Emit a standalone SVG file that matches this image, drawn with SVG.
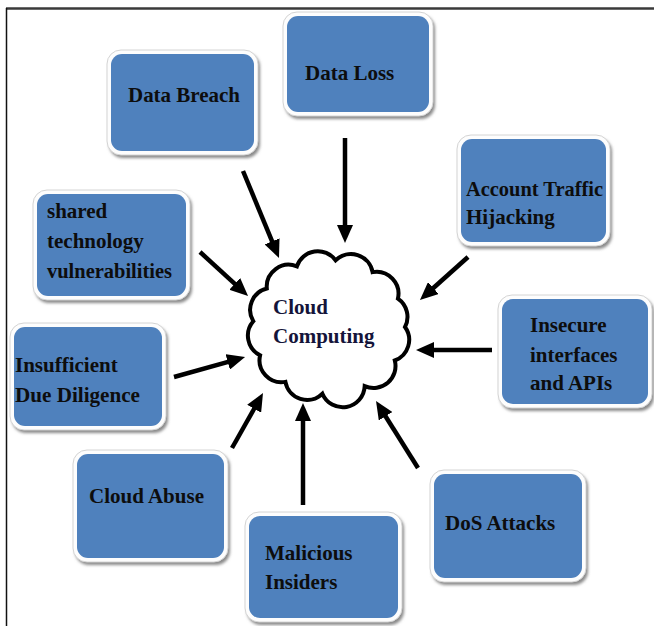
<svg xmlns="http://www.w3.org/2000/svg" width="654" height="626" viewBox="0 0 654 626">
<defs>
<style>
.shadow{fill:#8a8a8a;filter:url(#blur)}
.frame{fill:#fdfdfd;stroke:#d4d4d4;stroke-width:1}
.fill{fill:#4f81bd}
.lbl{font-family:"Liberation Serif","Times New Roman",serif;font-weight:bold;font-size:21px;fill:#0d0d0d}
.cl{font-family:"Liberation Serif","Times New Roman",serif;font-weight:bold;font-size:21px;fill:#14143a}
.conn{stroke:#000;stroke-width:4.5;fill:none;marker-end:url(#ah)}
</style>
<filter id="blur" x="-10%" y="-10%" width="120%" height="120%"><feGaussianBlur stdDeviation="1.5"/></filter>
<marker id="ah" markerUnits="userSpaceOnUse" markerWidth="18" markerHeight="16" refX="6" refY="8" orient="auto"><path d="M0,0 L18,8 L0,16 z" fill="#000"/></marker>
</defs>
<rect width="654" height="626" fill="#fff"/>
<line x1="6" y1="8.5" x2="654" y2="8.5" stroke="#3a3a3a" stroke-width="2.5"/>
<line x1="6.5" y1="8" x2="6.5" y2="626" stroke="#111" stroke-width="1.5"/>

<g id="connectors">
<line class="conn" x1="243" y1="171" x2="274.4" y2="246.9"/>
<line class="conn" x1="345" y1="138" x2="345" y2="231"/>
<line class="conn" x1="468" y1="257" x2="428.9" y2="292"/>
<line class="conn" x1="492" y1="350" x2="428" y2="350"/>
<line class="conn" x1="418" y1="468" x2="382.4" y2="411.2"/>
<line class="conn" x1="303" y1="505" x2="303" y2="415"/>
<line class="conn" x1="232" y1="448" x2="257.1" y2="403.5"/>
<line class="conn" x1="174" y1="377" x2="233.5" y2="360.3"/>
<line class="conn" x1="200" y1="252" x2="239.2" y2="287.9"/>
</g>

<g id="cloud">
<path d="M405,327 A22,22 0 0 1 394.8,360.5 A22,22 0 0 1 364.7,386.2 A22,22 0 0 1 322.4,393.7 A22,22 0 0 1 285.4,381.9 A22,22 0 0 1 260.1,355.3 A22,22 0 0 1 253.3,321.2 A22,22 0 0 1 266.8,288.5 A22,22 0 0 1 296.9,266.3 A22,22 0 0 1 335.6,260.3 A22,22 0 0 1 372.6,272.1 A22,22 0 0 1 397.9,298.7 A22,22 0 0 1 405,327 Z" fill="#fff" stroke="#000" stroke-width="4"/>
<text class="cl" x="273" y="314">Cloud</text>
<text class="cl" x="273" y="343">Computing</text>
</g>

<g id="data-breach">
<rect class="shadow" x="109" y="53" width="151" height="105" rx="14"/>
<rect class="frame" x="107" y="50" width="151" height="105" rx="14"/>
<rect class="fill" x="111" y="54" width="143" height="97" rx="11"/>
<text class="lbl" x="128" y="102" textLength="112" lengthAdjust="spacingAndGlyphs">Data Breach</text>
</g>

<g id="data-loss">
<rect class="shadow" x="285" y="15" width="150" height="104" rx="14"/>
<rect class="frame" x="283" y="12" width="150" height="104" rx="14"/>
<rect class="fill" x="287" y="16" width="142" height="96" rx="11"/>
<text class="lbl" x="305" y="80">Data Loss</text>
</g>

<g id="account-traffic-hijacking">
<rect class="shadow" x="459" y="138" width="153" height="111" rx="14"/>
<rect class="frame" x="457" y="135" width="153" height="111" rx="14"/>
<rect class="fill" x="461" y="139" width="145" height="103" rx="11"/>
<text class="lbl" x="466" y="196" textLength="137" lengthAdjust="spacingAndGlyphs">Account Traffic</text>
<text class="lbl" x="466" y="224">Hijacking</text>
</g>

<g id="shared-technology">
<rect class="shadow" x="35" y="193" width="157" height="110" rx="14"/>
<rect class="frame" x="33" y="190" width="157" height="110" rx="14"/>
<rect class="fill" x="37" y="194" width="149" height="102" rx="11"/>
<text class="lbl" x="47" y="218">shared</text>
<text class="lbl" x="47" y="248">technology</text>
<text class="lbl" x="47" y="278" textLength="125" lengthAdjust="spacingAndGlyphs">vulnerabilities</text>
</g>

<g id="insufficient-due-diligence">
<rect class="shadow" x="12" y="326" width="156" height="107" rx="14"/>
<rect class="frame" x="10" y="323" width="156" height="107" rx="14"/>
<rect class="fill" x="14" y="327" width="148" height="99" rx="11"/>
<text class="lbl" x="15" y="372">Insufficient</text>
<text class="lbl" x="15" y="402" textLength="125" lengthAdjust="spacingAndGlyphs">Due Diligence</text>
</g>

<g id="insecure-interfaces">
<rect class="shadow" x="500" y="298" width="154" height="113" rx="14"/>
<rect class="frame" x="498" y="295" width="154" height="113" rx="14"/>
<rect class="fill" x="502" y="299" width="146" height="105" rx="11"/>
<text class="lbl" x="530" y="332">Insecure</text>
<text class="lbl" x="530" y="362">interfaces</text>
<text class="lbl" x="530" y="390">and APIs</text>
</g>

<g id="dos-attacks">
<rect class="shadow" x="432" y="473" width="156" height="112" rx="14"/>
<rect class="frame" x="430" y="470" width="156" height="112" rx="14"/>
<rect class="fill" x="434" y="474" width="148" height="104" rx="11"/>
<text class="lbl" x="445" y="530">DoS Attacks</text>
</g>

<g id="cloud-abuse">
<rect class="shadow" x="75" y="453" width="155" height="112" rx="14"/>
<rect class="frame" x="73" y="450" width="155" height="112" rx="14"/>
<rect class="fill" x="77" y="454" width="147" height="104" rx="11"/>
<text class="lbl" x="89" y="503">Cloud Abuse</text>
</g>

<g id="malicious-insiders">
<rect class="shadow" x="247" y="515" width="157" height="110" rx="14"/>
<rect class="frame" x="245" y="512" width="157" height="110" rx="14"/>
<rect class="fill" x="249" y="516" width="149" height="102" rx="11"/>
<text class="lbl" x="265" y="560">Malicious</text>
<text class="lbl" x="265" y="589">Insiders</text>
</g>
</svg>
